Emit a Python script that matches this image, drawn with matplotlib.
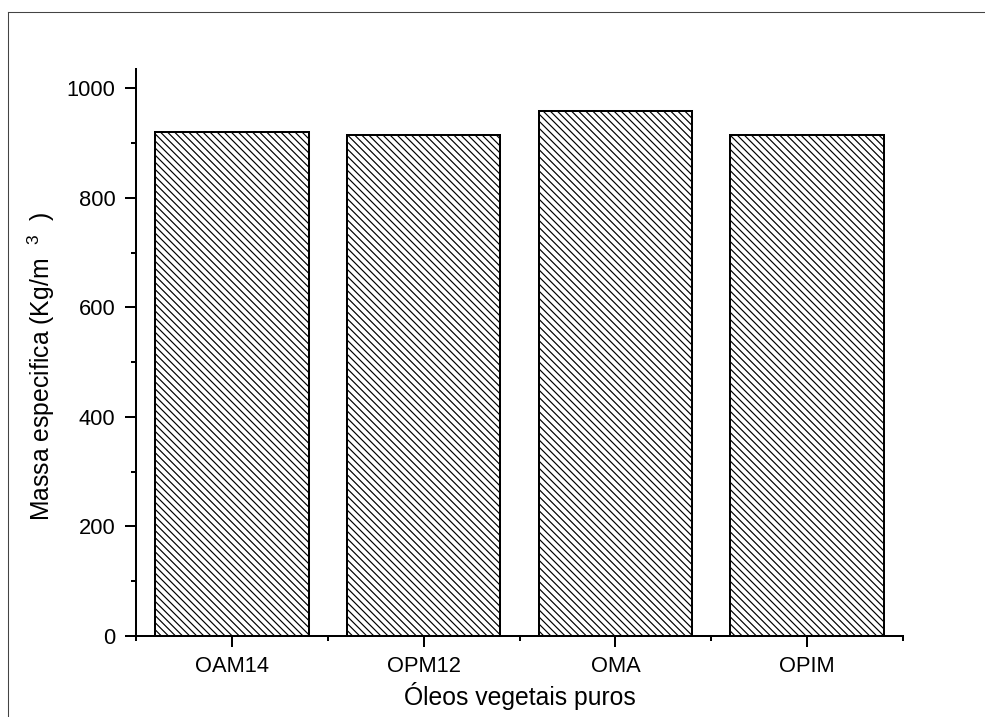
import matplotlib
matplotlib.use("Agg")
import matplotlib.pyplot as plt
from matplotlib.lines import Line2D
from matplotlib.ticker import FixedLocator, MultipleLocator

plt.rcParams['font.family'] = ['Liberation Sans', 'DejaVu Sans']
plt.rcParams['mathtext.fontset'] = 'custom'
plt.rcParams['mathtext.rm'] = 'Liberation Sans'
plt.rcParams['hatch.linewidth'] = 1.0
plt.rcParams['hatch.color'] = '#333333'

oleos = ['OAM14', 'OPM12', 'OMA', 'OPIM']
massa = [920, 914, 959, 915]

DPI = 85
fig = plt.figure(figsize=(985 / DPI, 717 / DPI), dpi=DPI)
ax = fig.add_axes([136 / 985, 81 / 717, 767 / 985, 567 / 717])

pos = list(range(1, len(oleos) + 1))
ax.bar(pos, massa, width=0.8, color='white', edgecolor='black',
       linewidth=1.7, hatch='\\\\\\\\')

ax.set_xlim(0.5, len(oleos) + 0.5)
ax.set_ylim(0, 1035)
ax.set_xticks(pos)
ax.set_xticklabels(oleos)
ax.xaxis.set_minor_locator(FixedLocator([p - 0.5 for p in pos] + [len(oleos) + 0.5]))
ax.set_yticks(range(0, 1001, 200))
ax.yaxis.set_minor_locator(MultipleLocator(100))

for s in ['top', 'right']:
    ax.spines[s].set_visible(False)
for s in ['left', 'bottom']:
    ax.spines[s].set_linewidth(1.7)

ax.tick_params(which='major', length=9.3, width=1.7, labelsize=18.5, pad=8)
ax.tick_params(which='minor', length=4.5, width=1.7)
ax.tick_params(axis='x', which='major', pad=7.5)

ax.set_xlabel('Óleos vegetais puros', fontsize=21, labelpad=4)
ax.set_ylabel('Massa especifica (Kg/m  $^{3}$  )', fontsize=21, labelpad=8)
ax.yaxis.label.set_y(0.475)

# moldura externa
fig.add_artist(Line2D([8 / 985, 8 / 985], [0, 1 - 12 / 717], transform=fig.transFigure,
                      color='#444444', linewidth=0.9))
fig.add_artist(Line2D([8 / 985, 1], [1 - 12 / 717, 1 - 12 / 717], transform=fig.transFigure,
                      color='#444444', linewidth=0.9))

fig.savefig('out.png', dpi=DPI)
